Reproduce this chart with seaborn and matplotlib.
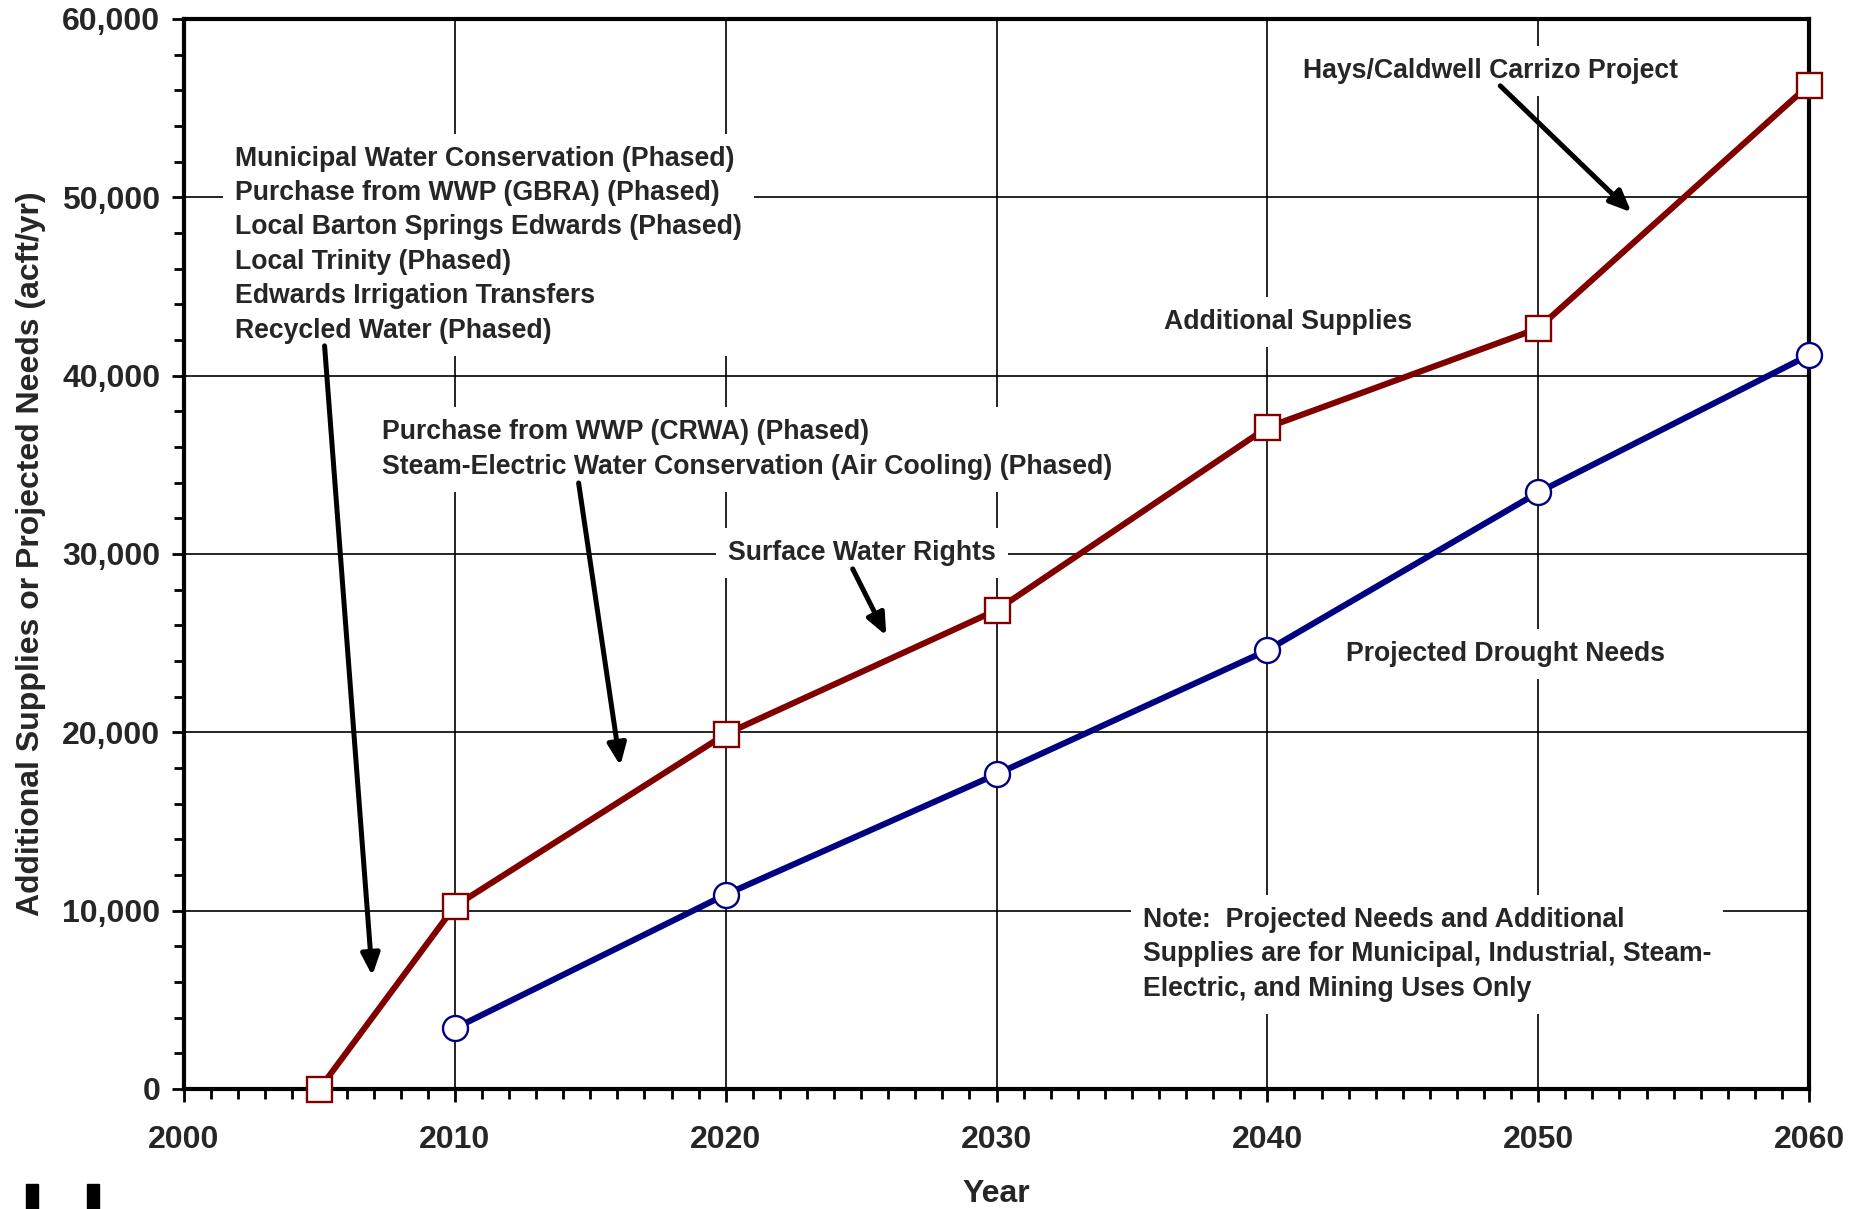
import numpy as np
import pandas as pd
import matplotlib
matplotlib.use('Agg')
import matplotlib.pyplot as plt
import matplotlib.ticker as mticker
from matplotlib.patches import Rectangle
import seaborn as sns

# données
supply_years = [2005, 2010, 2020, 2030, 2040, 2050, 2060]
supply_values = [0, 10250, 19900, 26850, 37100, 42650, 56300]
need_years = [2010, 2020, 2030, 2040, 2050, 2060]
need_values = [3400, 10900, 17650, 24600, 33450, 41150]

x_ticks = [2000, 2010, 2020, 2030, 2040, 2050, 2060]
y_ticks = [0, 10000, 20000, 30000, 40000, 50000, 60000]

RED = '#800000'
NAVY = '#000080'

sns.set_style('ticks')
plt.rcParams['font.family'] = ['Liberation Sans', 'DejaVu Sans']
plt.rcParams['font.weight'] = 'bold'

fig = plt.figure(figsize=(18.7, 12.09), dpi=100)
ax = fig.add_axes([0.0984, 0.0993, 0.869, 0.885])

df_sup = pd.DataFrame({'year': supply_years, 'value': supply_values})
df_need = pd.DataFrame({'year': need_years, 'value': need_values})

sns.lineplot(data=df_sup, x='year', y='value', ax=ax, color=RED, lw=4.4,
             marker='s', markersize=18, markerfacecolor='white',
             markeredgecolor=RED, markeredgewidth=1.7, zorder=5, clip_on=False)
sns.lineplot(data=df_need, x='year', y='value', ax=ax, color=NAVY, lw=4.4,
             marker='o', markersize=18, markerfacecolor='white',
             markeredgecolor=NAVY, markeredgewidth=1.7, zorder=5, clip_on=False)

ax.set_xlim(2000, 2060)
ax.set_ylim(0, 60000)
ax.set_xticks(x_ticks)
ax.set_yticks(y_ticks)
ax.xaxis.set_minor_locator(mticker.MultipleLocator(1))
ax.yaxis.set_minor_locator(mticker.MultipleLocator(2000))
ax.yaxis.set_major_formatter(mticker.FuncFormatter(lambda v, p: f'{int(v):,}'))
ax.grid(which='major', color='black', lw=1.2)
ax.set_axisbelow(True)
for s in ax.spines.values():
    s.set_linewidth(3)
    s.set_color('black')
ax.tick_params(which='major', direction='out', length=9, width=2, labelsize=23, color='black')
ax.tick_params(which='minor', direction='out', length=7, width=2, color='black')
ax.tick_params(axis='x', which='major', pad=17)
ax.tick_params(axis='y', which='major', pad=8)
for lab in ax.get_xticklabels() + ax.get_yticklabels():
    lab.set_fontweight('bold')

ax.set_xlabel('Year', fontsize=23, fontweight='bold', labelpad=17)
ax.set_ylabel('Additional Supplies or Projected Needs (acft/yr)', fontsize=23,
              fontweight='bold', labelpad=12)

box = dict(facecolor='white', edgecolor='none', boxstyle='square,pad=0.45')
txt = dict(fontsize=19.2, fontweight='bold', ha='left', va='center', zorder=3,
           linespacing=1.42, bbox=box)

ax.text(2001.9, 47350, 'Municipal Water Conservation (Phased)\n'
        'Purchase from WWP (GBRA) (Phased)\n'
        'Local Barton Springs Edwards (Phased)\n'
        'Local Trinity (Phased)\n'
        'Edwards Irrigation Transfers\n'
        'Recycled Water (Phased)', **txt)
ax.text(2007.3, 35850, 'Purchase from WWP (CRWA) (Phased)\n'
        'Steam-Electric Water Conservation (Air Cooling) (Phased)', **txt)
ax.text(2020.1, 30080, 'Surface Water Rights', **txt)
ax.text(2041.3, 57080, 'Hays/Caldwell Carrizo Project', **txt)
ax.text(2036.2, 43030, 'Additional Supplies', **txt)
ax.text(2042.9, 24400, 'Projected Drought Needs', **txt)
ax.text(2035.4, 7560, 'Note:  Projected Needs and Additional\n'
        'Supplies are for Municipal, Industrial, Steam-\n'
        'Electric, and Mining Uses Only', **txt)

arrows = [((2005.19, 41670), (2006.95, 6350)),
          ((2014.57, 33980), (2016.11, 18130)),
          ((2024.69, 29160), (2025.93, 25420)),
          ((2048.6, 56250), (2053.44, 49160))]
for start, end in arrows:
    ax.annotate('', xy=end, xytext=start, zorder=4,
                arrowprops=dict(arrowstyle='-|>,head_length=0.65,head_width=0.28',
                                lw=3.6, color='black', mutation_scale=20,
                                shrinkA=0, shrinkB=0))

# petits traits noirs en bas à gauche (bord recadré de l'original)
for x0 in (26, 87):
    fig.add_artist(Rectangle((x0 / 1870, 0), 12 / 1870, 25 / 1209,
                             transform=fig.transFigure, color='black'))

plt.savefig('out.png', dpi=100)
